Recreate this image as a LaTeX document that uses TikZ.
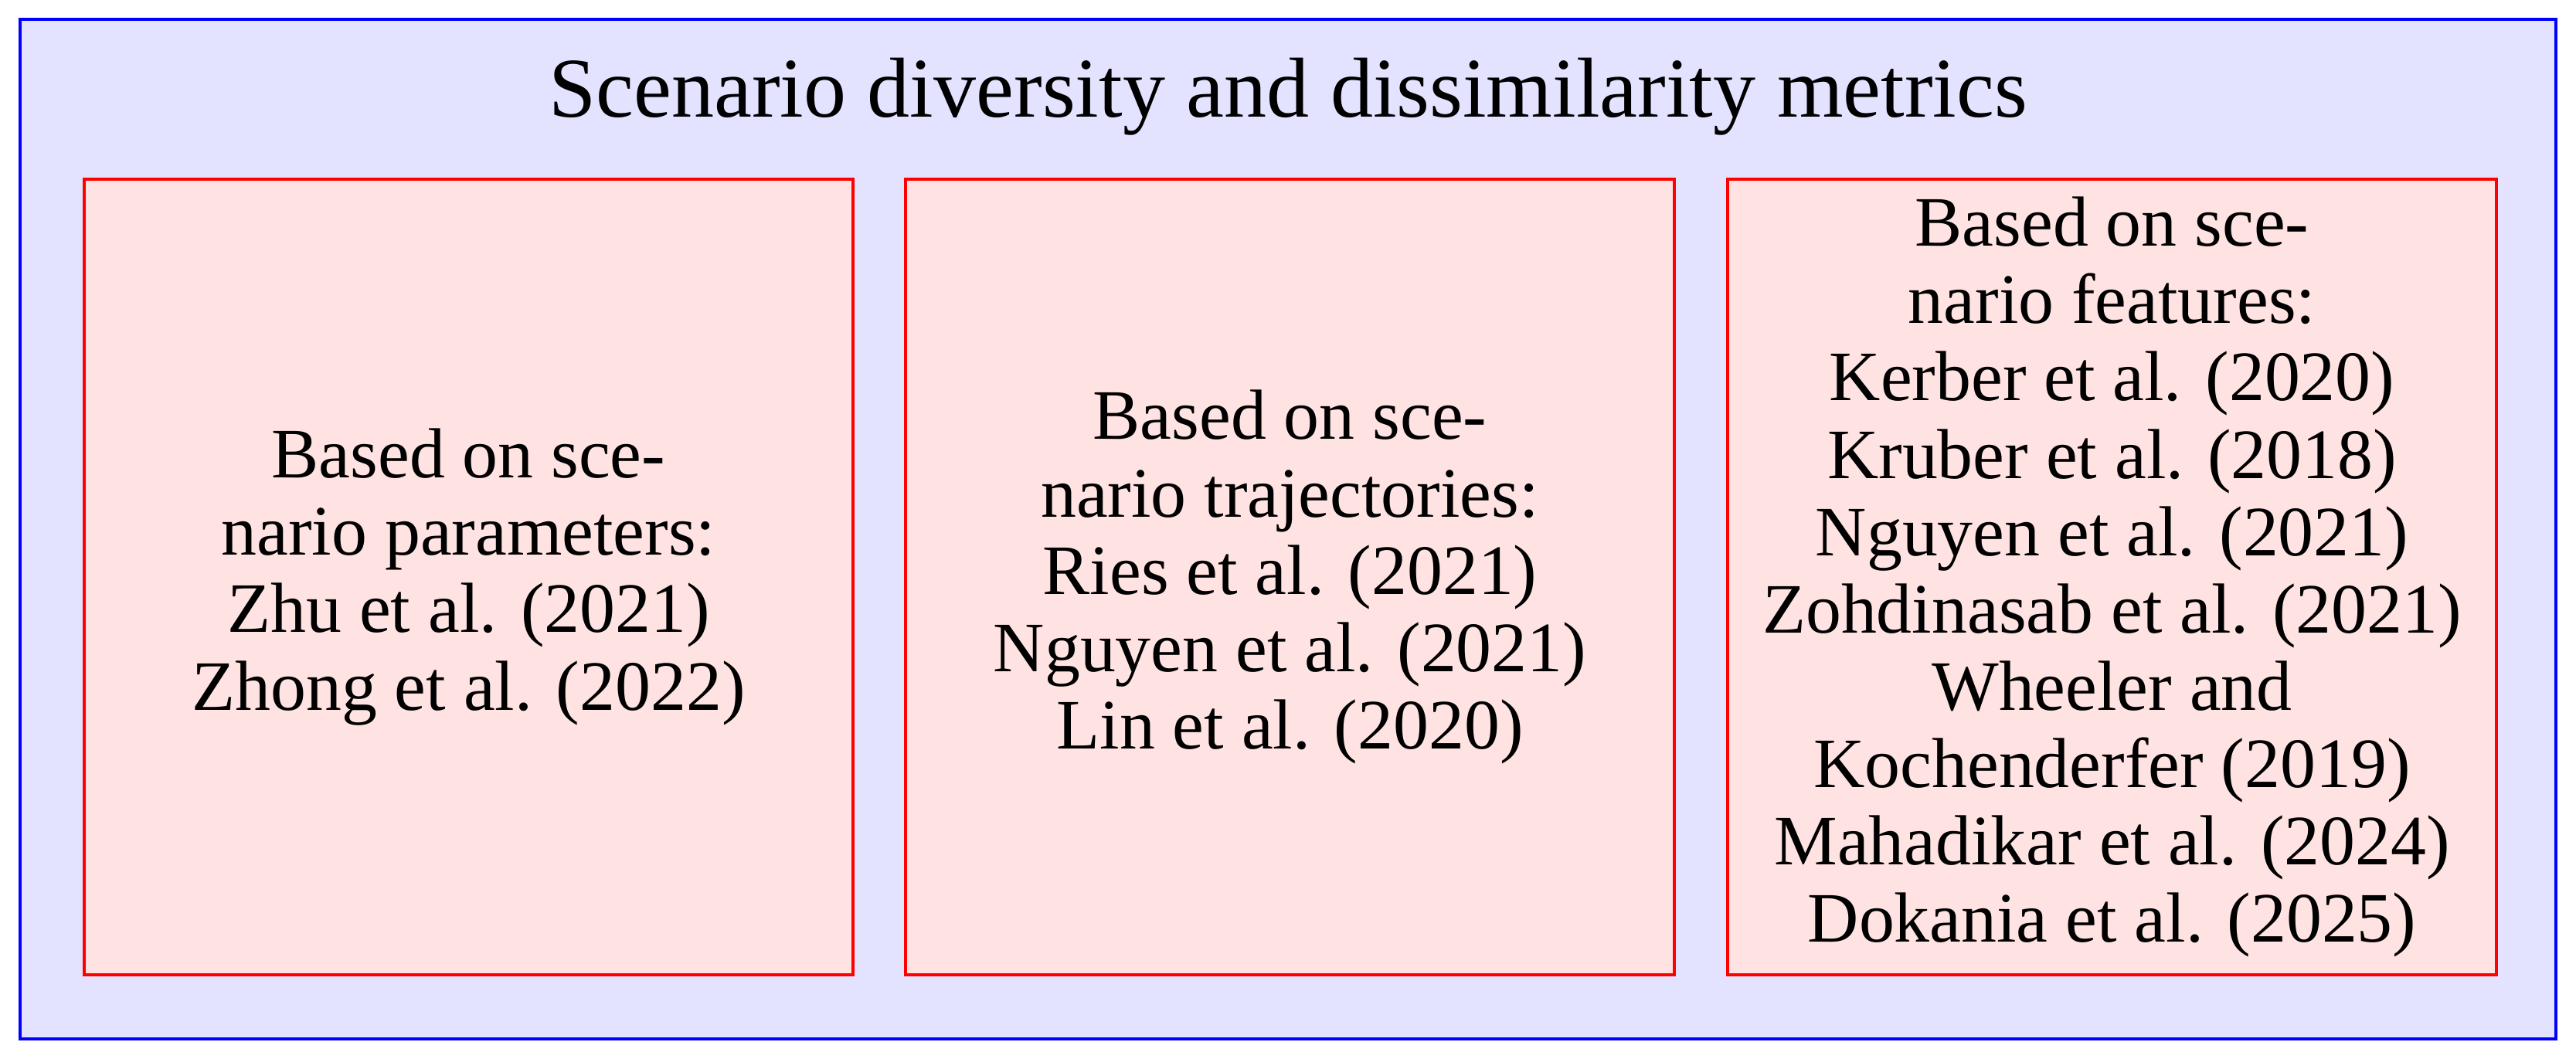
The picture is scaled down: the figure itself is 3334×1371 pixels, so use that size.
\documentclass[tikz,border=0pt]{standalone}
\newif\ifpala
\IfFileExists{mathpazo.sty}{\IfFileExists{uplr8a.pfb}{\palatrue}{}}{}
\ifpala
  \usepackage{mathpazo}
  \newcommand{\bodysize}{\fontsize{23.4}{28.45}\selectfont}
  \newcommand{\titlesize}{\fontsize{28.2}{34}\selectfont}
\else
  \usepackage{fontspec}
  \setmainfont{Liberation Serif}
  \newcommand{\bodysize}{\fontsize{26.1}{28.45}\selectfont}
  \newcommand{\titlesize}{\fontsize{31.3}{34}\selectfont}
\fi
\begin{document}
\begin{tikzpicture}[x=0.01cm,y=-0.01cm,
  outerbox/.style={draw=blue,fill=blue!11,line width=0.04cm},
  catbox/.style={draw=red,fill=red!11,line width=0.045cm,minimum width=995*0.01cm,minimum height=1030*0.01cm,inner sep=0pt},
  cattext/.style={align=center,font=\bodysize},
  titletext/.style={font=\titlesize,anchor=base}]
\useasboundingbox (0,0) rectangle (3334,1371);
\fill[white] (0,0) rectangle (3334,1371);
\draw[outerbox] (26,25) rectangle (3308,1345);
\node[titletext] (title) at (1667,152) {Scenario diversity and dissimilarity metrics};
\node[catbox] (b1) at (606.5,747) {};
\node[catbox] (b2) at (1669.5,747) {};
\node[catbox] (b3) at (2733.5,747) {};
\node[cattext] (t1) at (b1.center) {Based on sce-\\nario parameters:\\Zhu et al. (2021)\\Zhong et al. (2022)};
\node[cattext] (t2) at (b2.center) {Based on sce-\\nario trajectories:\\Ries et al. (2021)\\Nguyen et al. (2021)\\Lin et al. (2020)};
\node[cattext] (t3) at (b3.center) {Based on sce-\\nario features:\\Kerber et al. (2020)\\Kruber et al. (2018)\\Nguyen et al. (2021)\\Zohdinasab et al. (2021)\\Wheeler and\\Kochenderfer (2019)\\Mahadikar et al. (2024)\\Dokania et al. (2025)};
\end{tikzpicture}
\end{document}
